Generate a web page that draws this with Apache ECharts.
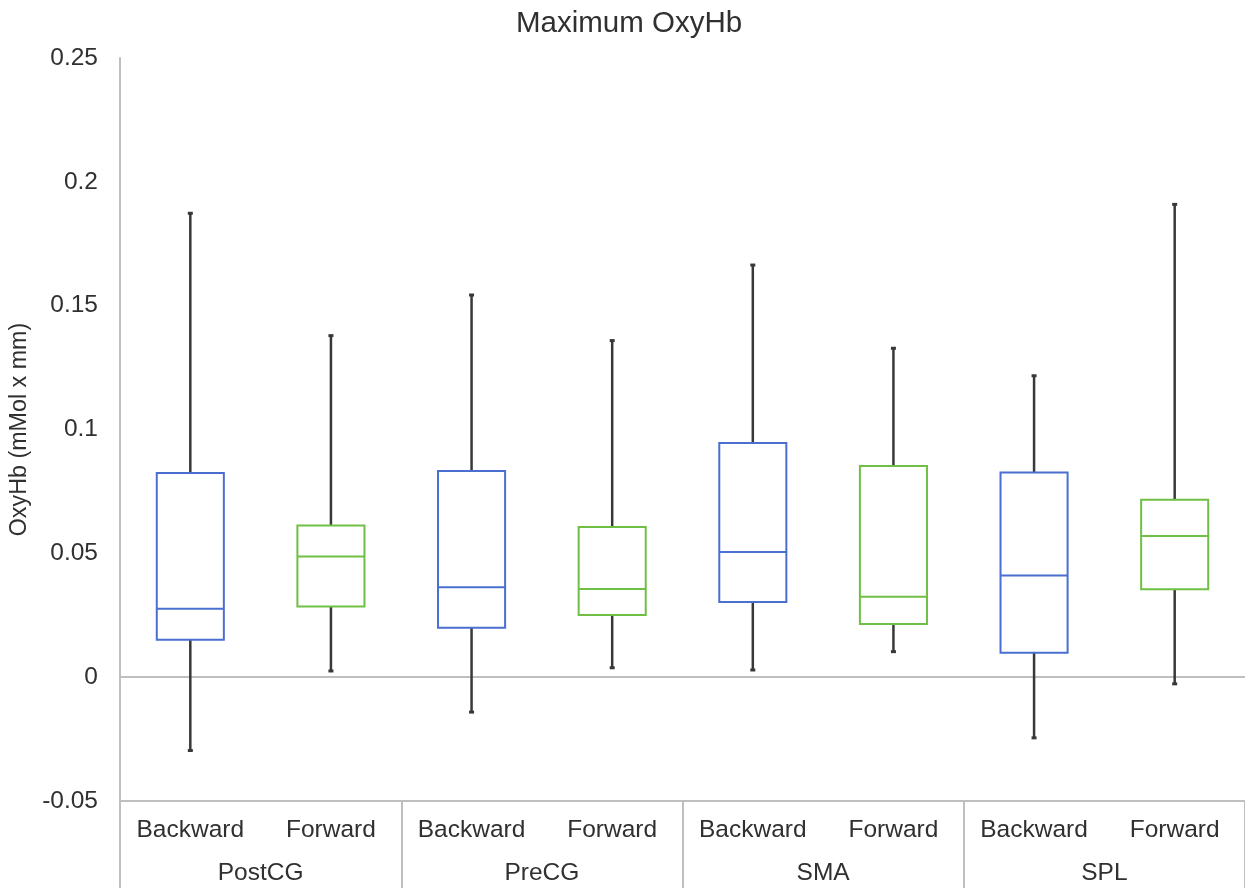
<!DOCTYPE html>
<html>
<head>
<meta charset="utf-8">
<script src="https://cdn.jsdelivr.net/npm/echarts@6/dist/echarts.min.js"></script>
<style>
html,body{margin:0;padding:0;background:#fff;}
#chart{width:1245px;height:888px;}
</style>
</head>
<body>
<div id="chart"></div>
<script>
// ---- data ----
const groups = ['PostCG', 'PreCG', 'SMA', 'SPL'];
const subLabels = ['Backward', 'Forward'];
const yTicks = [-0.05, 0, 0.05, 0.1, 0.15, 0.2, 0.25];

// per group: PostCG, PreCG, SMA, SPL
const backwardMin    = [-0.0296, -0.0141, 0.0029, -0.0245];
const backwardQ1     = [0.0151, 0.0200, 0.0303, 0.0099];
const backwardMedian = [0.0276, 0.0363, 0.0505, 0.0410];
const backwardQ3     = [0.0824, 0.0832, 0.0945, 0.0826];
const backwardMax    = [0.1873, 0.1543, 0.1664, 0.1217];

const forwardMin     = [0.0025, 0.0038, 0.0103, -0.0027];
const forwardQ1      = [0.0285, 0.0251, 0.0215, 0.0355];
const forwardMedian  = [0.0487, 0.0356, 0.0325, 0.0570];
const forwardQ3      = [0.0612, 0.0606, 0.0853, 0.0716];
const forwardMax     = [0.1379, 0.1359, 0.1328, 0.1909];

// ---- build ----
const catLabels = [];
groups.forEach(() => subLabels.forEach(s => catLabels.push(s)));

function buildData(subIdx, mins, q1s, meds, q3s, maxs) {
  return groups.map((g, i) => [i * subLabels.length + subIdx, mins[i], q1s[i], meds[i], q3s[i], maxs[i]]);
}
const backwardData = buildData(0, backwardMin, backwardQ1, backwardMedian, backwardQ3, backwardMax);
const forwardData = buildData(1, forwardMin, forwardQ1, forwardMedian, forwardQ3, forwardMax);

const FONT = "'Liberation Sans', Arial, Helvetica, sans-serif";
const TXT = '#303030';
const AXIS_GRAY = '#bfbfbf';
const WHISKER = '#383838';

function makeRender(color) {
  return function (params, api) {
    const x = api.value(0);
    const pMin = api.coord([x, api.value(1)]);
    const pQ1 = api.coord([x, api.value(2)]);
    const pMed = api.coord([x, api.value(3)]);
    const pQ3 = api.coord([x, api.value(4)]);
    const pMax = api.coord([x, api.value(5)]);
    const cx = pMed[0];
    const bw = api.size([1, 0])[0] * 0.477;
    const hw = bw / 2;
    const capW = 2.5;
    const wStyle = { stroke: WHISKER, lineWidth: 2.5 };
    return {
      type: 'group',
      children: [
        { type: 'line', shape: { x1: cx, y1: pQ3[1], x2: cx, y2: pMax[1] }, style: wStyle },
        { type: 'line', shape: { x1: cx, y1: pQ1[1], x2: cx, y2: pMin[1] }, style: wStyle },
        { type: 'line', shape: { x1: cx - capW, y1: pMax[1], x2: cx + capW, y2: pMax[1] }, style: { stroke: WHISKER, lineWidth: 3 } },
        { type: 'line', shape: { x1: cx - capW, y1: pMin[1], x2: cx + capW, y2: pMin[1] }, style: { stroke: WHISKER, lineWidth: 3 } },
        { type: 'rect', shape: { x: cx - hw, y: pQ3[1], width: bw, height: pQ1[1] - pQ3[1] },
          style: { fill: '#ffffff', stroke: color, lineWidth: 2 } },
        { type: 'line', shape: { x1: cx - hw, y1: pMed[1], x2: cx + hw, y2: pMed[1] },
          style: { stroke: color, lineWidth: 2 } }
      ]
    };
  };
}

// zero line only among split lines
const splitColors = yTicks.map(v => (v === 0 ? AXIS_GRAY : 'rgba(0,0,0,0)'));

const chart = echarts.init(document.getElementById('chart'), null, { renderer: 'canvas' });
chart.setOption({
  animation: false,
  backgroundColor: '#ffffff',
  textStyle: { fontFamily: FONT },
  title: {
    text: 'Maximum OxyHb',
    left: 511,
    top: 4,
    textStyle: { fontFamily: FONT, fontSize: 29.5, fontWeight: 'normal', color: TXT }
  },
  grid: { left: 120, right: -3, top: 58, bottom: 87, containLabel: false },
  xAxis: [
    {
      type: 'category',
      data: catLabels,
      position: 'bottom',
      boundaryGap: true,
      axisLine: { show: true, onZero: false, lineStyle: { color: AXIS_GRAY, width: 2 } },
      axisTick: { show: false },
      axisLabel: { interval: 0, margin: 17, fontSize: 24.5, color: TXT, fontFamily: FONT },
      splitLine: { show: false }
    },
    {
      type: 'category',
      data: groups,
      position: 'bottom',
      boundaryGap: true,
      axisLine: { show: false, onZero: false },
      axisTick: { show: true, interval: 0, length: 88, lineStyle: { color: AXIS_GRAY, width: 2 } },
      axisLabel: { interval: 0, margin: 60, fontSize: 24.5, color: TXT, fontFamily: FONT },
      splitLine: { show: false }
    }
  ],
  yAxis: {
    type: 'value',
    min: yTicks[0],
    max: yTicks[yTicks.length - 1],
    interval: 0.05,
    name: 'OxyHb (mMol x mm)',
    nameLocation: 'middle',
    nameRotate: 90,
    nameGap: 78,
    nameTextStyle: { fontFamily: FONT, fontSize: 23.3, color: TXT },
    axisLine: { show: true, lineStyle: { color: AXIS_GRAY, width: 2 } },
    axisTick: { show: false },
    axisLabel: { margin: 22, fontSize: 24.5, color: TXT, fontFamily: FONT },
    splitLine: { show: true, lineStyle: { color: splitColors, width: 2 } }
  },
  series: [
    {
      name: 'Backward',
      type: 'custom',
      xAxisIndex: 0,
      renderItem: makeRender('#4a6fd1'),
      encode: { x: 0, y: [1, 2, 3, 4, 5] },
      data: backwardData,
      z: 3
    },
    {
      name: 'Forward',
      type: 'custom',
      xAxisIndex: 0,
      renderItem: makeRender('#6fbf45'),
      encode: { x: 0, y: [1, 2, 3, 4, 5] },
      data: forwardData,
      z: 3
    }
  ]
});
</script>
</body>
</html>
